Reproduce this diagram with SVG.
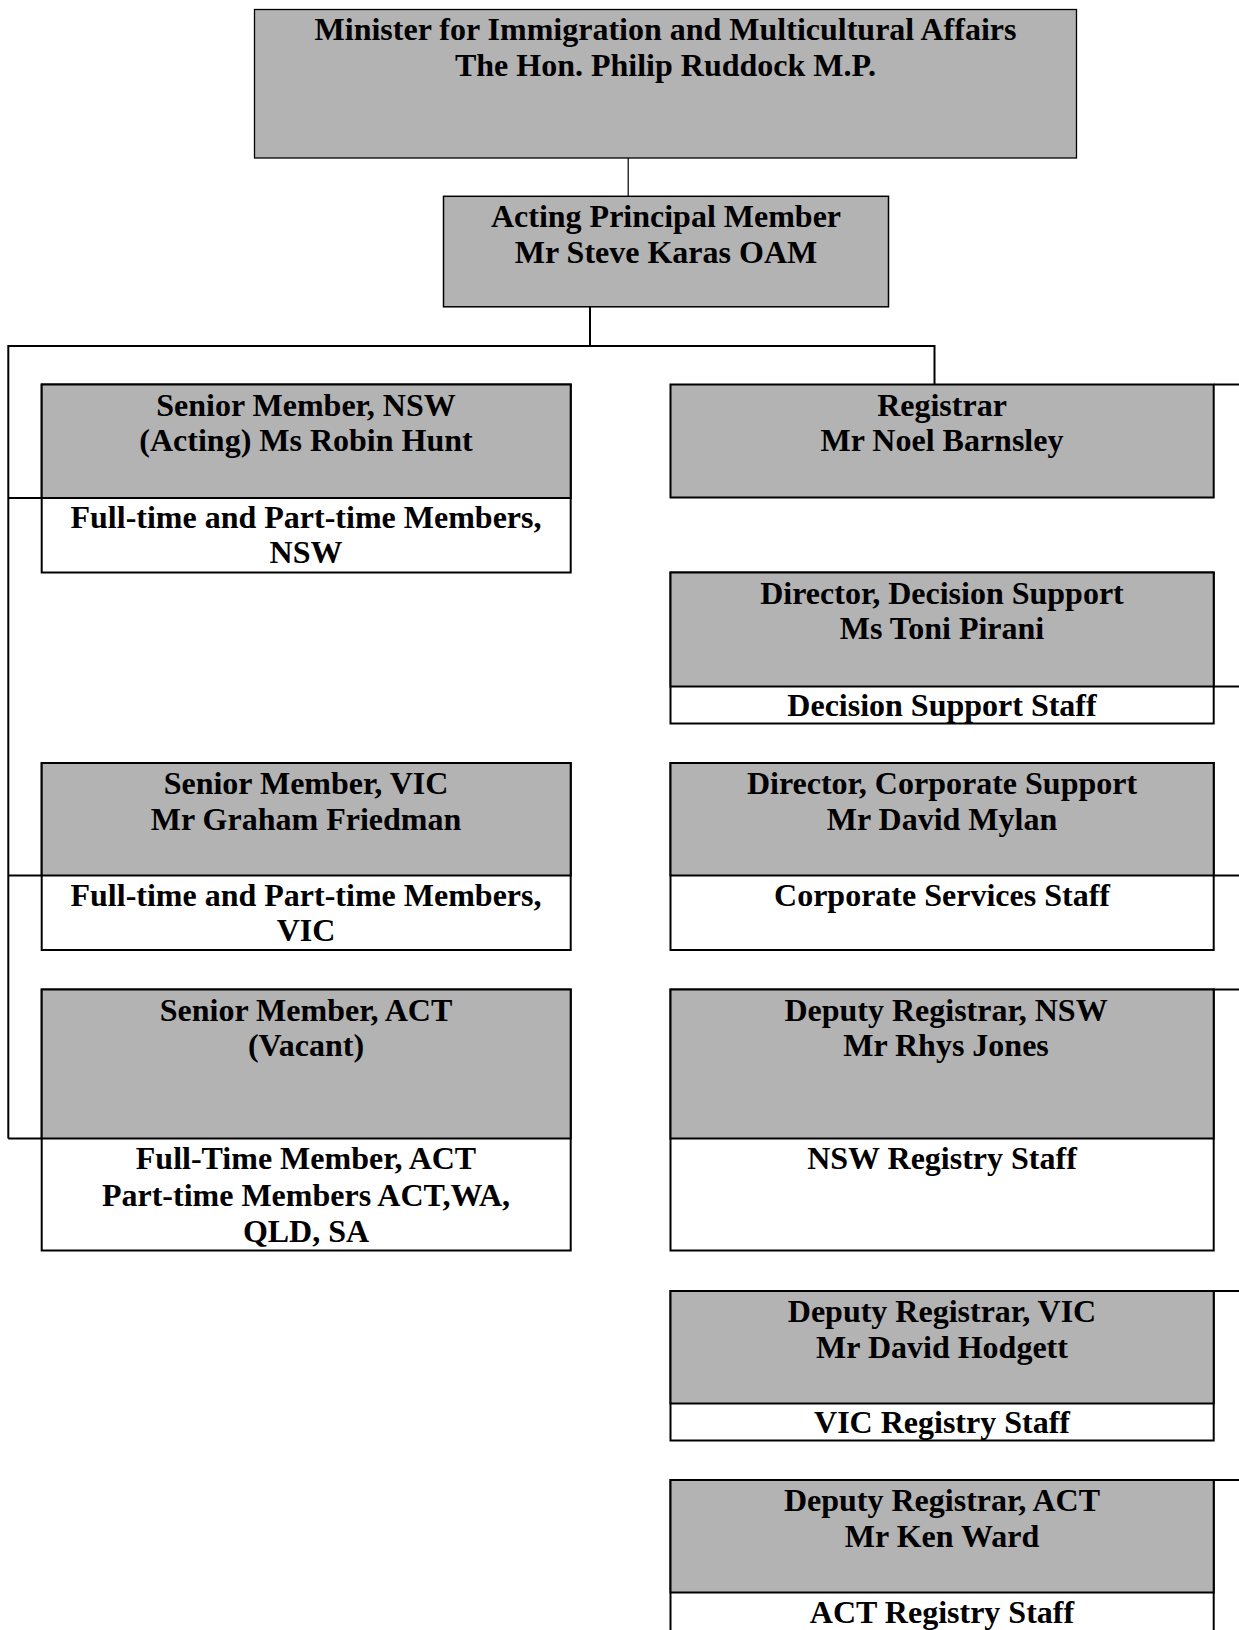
<svg xmlns="http://www.w3.org/2000/svg" width="1239" height="1630" viewBox="0 0 1239 1630">
<style>
.bg{fill:#ffffff}
.box{fill:#ffffff;stroke:#000;stroke-width:2}
.gray{fill:#b3b3b3;stroke:#000;stroke-width:2}
.con{stroke:#000;stroke-width:2;fill:none}
text{font-family:"Liberation Serif","Times New Roman",serif;font-weight:bold;font-size:32px;fill:#000;text-anchor:middle}
</style>
<rect class="bg" x="0" y="0" width="1239" height="1630"/>
<g id="connectors">
  <line class="con" x1="628.2" y1="158" x2="628.2" y2="196" style="stroke-width:1.2"/>
  <line class="con" x1="590" y1="307" x2="590" y2="346"/>
  <polyline class="con" points="8.3,1138.5 8.3,346 934.5,346 934.5,384.5"/>
  <line class="con" x1="8.3" y1="498" x2="41.5" y2="498"/>
  <line class="con" x1="8.3" y1="875.5" x2="41.5" y2="875.5"/>
  <line class="con" x1="8.3" y1="1138.5" x2="41.5" y2="1138.5"/>
  <line class="con" x1="1214" y1="384.5" x2="1239" y2="384.5"/>
  <line class="con" x1="1214" y1="686.5" x2="1239" y2="686.5"/>
  <line class="con" x1="1214" y1="875.5" x2="1239" y2="875.5"/>
  <line class="con" x1="1214" y1="989.5" x2="1239" y2="989.5"/>
  <line class="con" x1="1214" y1="1291" x2="1239" y2="1291"/>
  <line class="con" x1="1214" y1="1480" x2="1239" y2="1480"/>
</g>
<g id="minister">
  <rect class="gray" x="254.5" y="9.5" width="822" height="148.5" style="stroke-width:1.3"/>
  <text x="665.5" y="40">Minister for Immigration and Multicultural Affairs</text>
  <text x="665.5" y="76">The Hon. Philip Ruddock M.P.</text>
</g>
<g id="acting-principal">
  <rect class="gray" x="443.5" y="196.3" width="445" height="110.5" style="stroke-width:1.5"/>
  <text x="666" y="227">Acting Principal Member</text>
  <text x="666" y="263">Mr Steve Karas OAM</text>
</g>
<g id="senior-nsw">
  <rect class="box" x="41.7" y="384.5" width="529" height="188"/>
  <rect class="gray" x="41.7" y="384.5" width="529" height="113.5"/>
  <text x="306" y="415.5">Senior Member, NSW</text>
  <text x="306" y="451">(Acting) Ms Robin Hunt</text>
  <text x="306" y="527.5">Full-time and Part-time Members,</text>
  <text x="306" y="563">NSW</text>
</g>
<g id="senior-vic">
  <rect class="box" x="41.7" y="763" width="529" height="187"/>
  <rect class="gray" x="41.7" y="763" width="529" height="112.5"/>
  <text x="306" y="794">Senior Member, VIC</text>
  <text x="306" y="829.5">Mr Graham Friedman</text>
  <text x="306" y="905.5">Full-time and Part-time Members,</text>
  <text x="306" y="941">VIC</text>
</g>
<g id="senior-act">
  <rect class="box" x="41.7" y="989.5" width="529" height="261"/>
  <rect class="gray" x="41.7" y="989.5" width="529" height="149"/>
  <text x="306" y="1020.5">Senior Member, ACT</text>
  <text x="306" y="1056">(Vacant)</text>
  <text x="306" y="1169">Full-Time Member, ACT</text>
  <text x="306" y="1205.5">Part-time Members ACT,WA,</text>
  <text x="306" y="1242">QLD, SA</text>
</g>
<g id="registrar">
  <rect class="gray" x="670.5" y="384.5" width="543.2" height="113"/>
  <text x="942" y="415.5">Registrar</text>
  <text x="942" y="451">Mr Noel Barnsley</text>
</g>
<g id="director-decision">
  <rect class="box" x="670.5" y="572.5" width="543.2" height="151"/>
  <rect class="gray" x="670.5" y="572.5" width="543.2" height="114"/>
  <text x="942" y="603.5">Director, Decision Support</text>
  <text x="942" y="639">Ms Toni Pirani</text>
  <text x="942" y="716">Decision Support Staff</text>
</g>
<g id="director-corporate">
  <rect class="box" x="670.5" y="763" width="543.2" height="187"/>
  <rect class="gray" x="670.5" y="763" width="543.2" height="112.5"/>
  <text x="942" y="794">Director, Corporate Support</text>
  <text x="942" y="829.5">Mr David Mylan</text>
  <text x="942" y="905.5">Corporate Services Staff</text>
</g>
<g id="deputy-nsw">
  <rect class="box" x="670.5" y="989.5" width="543.2" height="261"/>
  <rect class="gray" x="670.5" y="989.5" width="543.2" height="149"/>
  <text x="946" y="1020.5">Deputy Registrar, NSW</text>
  <text x="946" y="1056">Mr Rhys Jones</text>
  <text x="942" y="1168.5">NSW Registry Staff</text>
</g>
<g id="deputy-vic">
  <rect class="box" x="670.5" y="1291" width="543.2" height="149.5"/>
  <rect class="gray" x="670.5" y="1291" width="543.2" height="112.5"/>
  <text x="942" y="1322">Deputy Registrar, VIC</text>
  <text x="942" y="1357.5">Mr David Hodgett</text>
  <text x="942" y="1433">VIC Registry Staff</text>
</g>
<g id="deputy-act">
  <rect class="box" x="670.5" y="1480" width="543.2" height="170"/>
  <rect class="gray" x="670.5" y="1480" width="543.2" height="112.5"/>
  <text x="942" y="1511">Deputy Registrar, ACT</text>
  <text x="942" y="1546.5">Mr Ken Ward</text>
  <text x="942" y="1623">ACT Registry Staff</text>
</g>
</svg>
